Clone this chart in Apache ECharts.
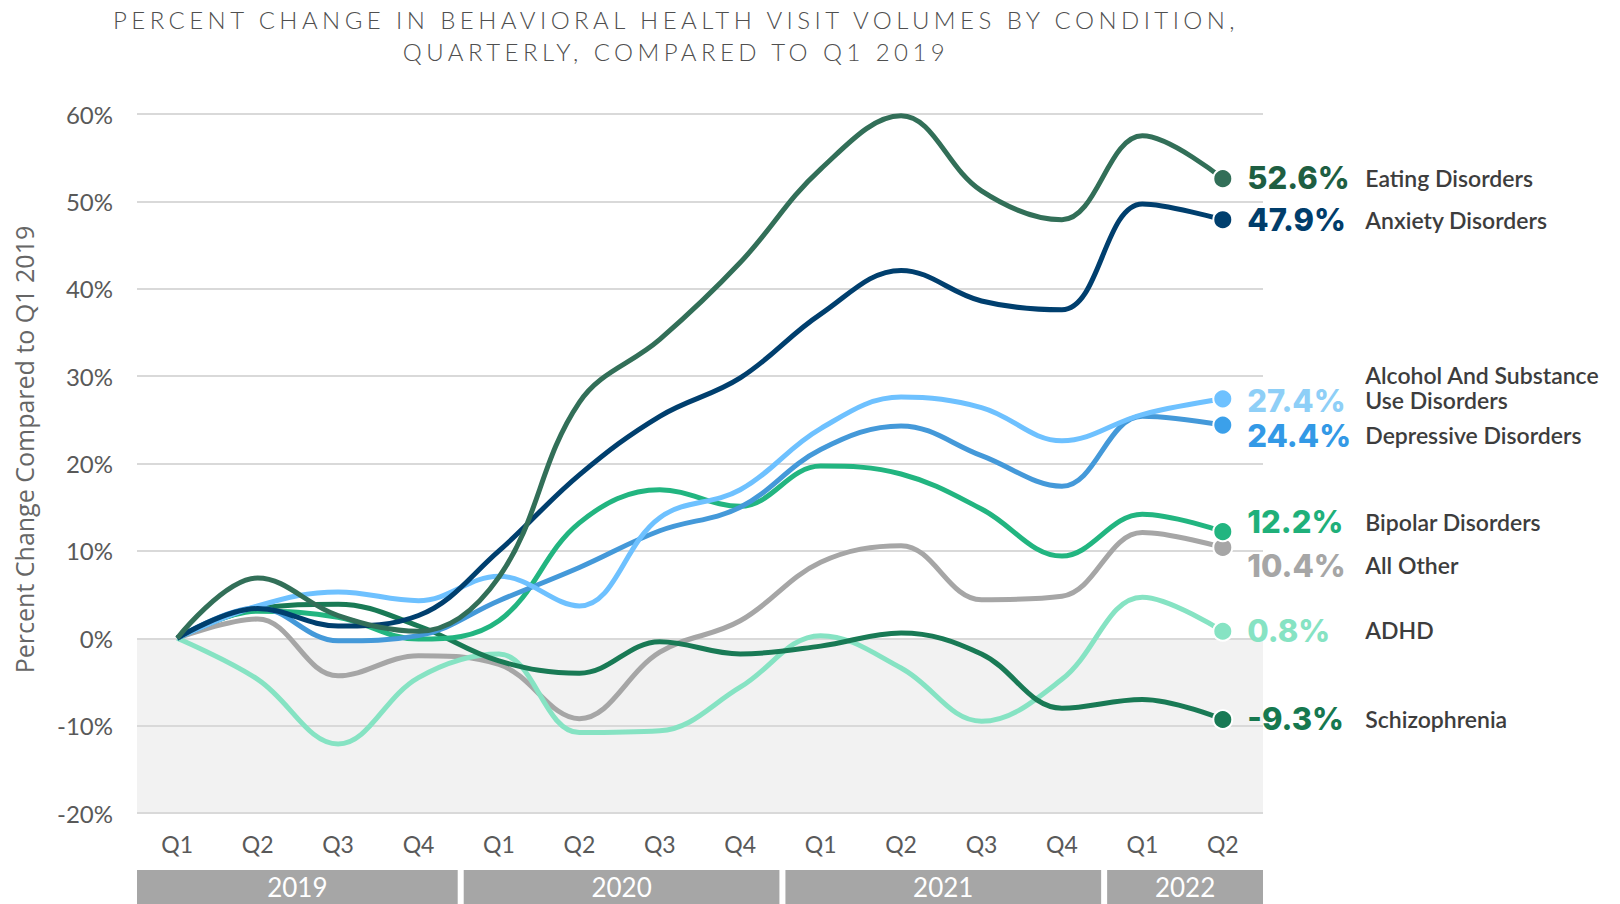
<!DOCTYPE html>
<html>
<head>
<meta charset="utf-8">
<script src="https://cdn.jsdelivr.net/npm/echarts@6/dist/echarts.min.js"></script>
<style>
html,body{margin:0;padding:0;background:#fff;}
#chart{width:1620px;height:904px;}
</style>
</head>
<body>
<div id="chart"></div>
<script>
// ---------- DATA ----------
const quarters = ['Q1','Q2','Q3','Q4','Q1','Q2','Q3','Q4','Q1','Q2','Q3','Q4','Q1','Q2'];
const years = ['2019','2020','2021','2022'];
const yearFirstQuarter = [0, 4, 8, 12];
const yearLastQuarter = [3, 7, 11, 13];

const eating      = [0, 6.9, 2.6, 0.8, 7.0, 27.0, 34.2, 43.0, 53.7, 59.8, 51.2, 47.9, 57.5, 52.6];
const anxiety     = [0, 3.4, 1.4, 2.6, 10.0, 18.7, 25.4, 29.8, 37.1, 42.1, 38.6, 37.6, 49.7, 47.9];
const alcohol     = [0, 3.7, 5.3, 4.3, 7.1, 3.7, 13.8, 17.0, 24.0, 27.6, 26.4, 22.6, 25.6, 27.4];
const depressive  = [0, 3.5, -0.3, 0.3, 4.3, 8.1, 12.3, 15.0, 21.6, 24.3, 20.9, 17.4, 25.4, 24.4];
const bipolar     = [0, 3.1, 2.4, -0.1, 2.0, 13.2, 17.0, 15.1, 19.7, 18.8, 14.8, 9.4, 14.2, 12.2];
const allOther    = [0, 2.2, -4.3, -2.0, -3.0, -9.2, -1.6, 2.0, 8.7, 10.6, 4.4, 4.8, 12.1, 10.4];
const adhd        = [0, -4.7, -12.1, -4.5, -1.8, -10.8, -10.6, -5.6, 0.3, -3.4, -9.5, -4.7, 4.7, 0.8];
const schizo      = [0, 3.4, 3.9, 1.4, -2.6, -4.0, -0.4, -1.8, -0.9, 0.6, -1.8, -8.0, -7.0, -9.3];

const yMin = -20, yMax = 60, yInterval = 10;

const titleLines = ['PERCENT CHANGE IN BEHAVIORAL HEALTH VISIT VOLUMES BY CONDITION,', 'QUARTERLY, COMPARED TO Q1 2019'];
const yAxisTitle = 'Percent Change Compared to Q1 2019';

// ---------- SERIES SETUP (drawn bottom to top) ----------
const seriesDefs = [
  { label: 'All Other', data: allOther, line: '#a6a6a6', text: '#a6a6a6', dy: 18 },
  { label: 'ADHD', data: adhd, line: '#86e3c3', text: '#86e3c3', dy: -1 },
  { label: 'Schizophrenia', data: schizo, line: '#197a55', text: '#16784f', dy: -1 },
  { label: 'Bipolar Disorders', data: bipolar, line: '#22b580', text: '#1fb07a', dy: -10 },
  { label: 'Depressive Disorders', data: depressive, line: '#4499d9', text: '#3399e6', dot: '#3ba0ea', dy: 10 },
  { label: 'Alcohol And Substance\nUse Disorders', data: alcohol, line: '#6ec1ff', text: '#8ecff7', dy: -11 },
  { label: 'Anxiety Disorders', data: anxiety, line: '#003f6e', text: '#003d6b', dy: 0 },
  { label: 'Eating Disorders', data: eating, line: '#326f58', text: '#1e5e42', dy: -1 }
];

const lastIdx = quarters.length - 1;

const lineSeries = seriesDefs.map(s => ({
  name: s.label.replace('\n', ' '),
  type: 'line',
  xAxisIndex: 0,
  yAxisIndex: 0,
  data: s.data,
  smooth: 0.38,
  symbol: 'circle',
  showSymbol: true,
  symbolSize: (v, p) => (p.dataIndex === lastIdx ? 19 : 0),
  lineStyle: { color: s.line, width: 5 },
  itemStyle: { color: s.dot || s.line, borderColor: '#ffffff', borderWidth: 2 },
  emphasis: { disabled: true },
  label: {
    show: true,
    position: 'right',
    distance: 14,
    offset: [0, s.dy],
    formatter: p => {
      if (p.dataIndex !== lastIdx) return '';
      const v = '{v|' + Number(p.value).toFixed(1) + '%}';
      const lines = s.label.split('\n');
      if (lines.length === 1) return v + '{n|' + lines[0] + '}';
      return '{sp|}{n|' + lines[0] + '}\n' + v + '{n|' + lines[1] + '}';
    },
    rich: {
      v: { fontFamily: 'Inter', fontSize: 31, fontWeight: 800, color: s.text, width: 118, lineHeight: 25 },
      n: { fontFamily: 'Lato', fontSize: 23, fontWeight: 600, color: '#3d3d3d', lineHeight: 25 },
      sp: { width: 118, lineHeight: 25 }
    }
  },
  z: 3
}));

const yearSeries = {
  type: 'custom',
  xAxisIndex: 1,
  yAxisIndex: 1,
  silent: true,
  data: years.map((y, i) => [yearFirstQuarter[i], yearLastQuarter[i], 0, 1]),
  encode: { x: [0, 1], y: [2, 3] },
  renderItem: (params, api) => {
    const s = api.value(0), e = api.value(1);
    const band = api.size([1, 0])[0];
    const pTop = api.coord([s, 1]);
    const pBot = api.coord([e, 0]);
    let x0 = pTop[0] - band / 2;
    let x1 = pBot[0] + band / 2;
    if (s > 0) x0 += 5;
    if (e < lastIdx) x1 -= 1;
    const y0 = pTop[1], y1 = pBot[1];
    return {
      type: 'group',
      children: [
        { type: 'rect', shape: { x: x0, y: y0, width: x1 - x0, height: y1 - y0 }, style: { fill: '#a6a6a6' } },
        { type: 'text', style: { text: years[params.dataIndex], x: (x0 + x1) / 2, y: (y0 + y1) / 2, align: 'center', verticalAlign: 'middle', fill: '#ffffff', fontFamily: 'Lato', fontSize: 26 } }
      ]
    };
  }
};

const titleFont = { family: 'Lato', size: 24, weight: 300 };

const option = {
  animation: false,
  backgroundColor: '#ffffff',
  title: {
    text: titleLines.join('\n'),
    left: 676,
    top: 3,
    textAlign: 'center',
    padding: 0,
    textStyle: { fontFamily: titleFont.family, fontSize: titleFont.size, fontWeight: titleFont.weight, color: '#4f4f4f', lineHeight: 32 }
  },
  grid: [
    { left: 137, right: 357, top: 114, bottom: 91, containLabel: false },
    { left: 137, right: 357, top: 870, bottom: 0, containLabel: false }
  ],
  xAxis: [
    {
      type: 'category', gridIndex: 0, data: quarters, boundaryGap: true,
      axisLine: { show: false }, axisTick: { show: false },
      axisLabel: { margin: 19, fontFamily: 'Lato', fontSize: 23, color: '#595959' },
      splitLine: { show: false }
    },
    { type: 'category', gridIndex: 1, data: quarters, boundaryGap: true, show: false }
  ],
  yAxis: [
    {
      type: 'value', gridIndex: 0, min: yMin, max: yMax, interval: yInterval,
      name: yAxisTitle,
      nameLocation: 'middle', nameGap: 101,
      nameTextStyle: { fontFamily: 'Open Sans', fontSize: 25, color: '#666666', padding: [0, 0, 0, 28] },
      axisLine: { show: false }, axisTick: { show: false },
      axisLabel: { margin: 24, fontFamily: 'Lato', fontSize: 24, color: '#595959', formatter: '{value}%', padding: [0, 0, 4, 0] },
      splitLine: { show: true, lineStyle: { color: '#d9d9d9', width: 2 } },
      splitArea: { show: true, areaStyle: { color: ['#f2f2f2', '#f2f2f2', 'rgba(255,255,255,0)', 'rgba(255,255,255,0)', 'rgba(255,255,255,0)', 'rgba(255,255,255,0)', 'rgba(255,255,255,0)', 'rgba(255,255,255,0)'] } }
    },
    { type: 'value', gridIndex: 1, min: 0, max: 1, show: false }
  ],
  series: [yearSeries].concat(lineSeries)
};

const chart = echarts.init(document.getElementById('chart'), null, { renderer: 'svg' });
chart.setOption(option);

// Title tracking (letter spacing) to match the reference's wide-spaced heading
const targetLine1Width = 1131;
const mctx = document.createElement('canvas').getContext('2d');
mctx.font = titleFont.weight + ' ' + titleFont.size + 'px ' + titleFont.family;
const tracking = Math.max(0, (targetLine1Width - mctx.measureText(titleLines[0]).width) / titleLines[0].length);
function applyTracking() {
  document.querySelectorAll('#chart svg text').forEach(t => {
    const s = t.textContent;
    if (titleLines.indexOf(s) >= 0) {
      t.setAttribute('letter-spacing', tracking.toFixed(2) + 'px');
    }
  });
}
chart.on('rendered', applyTracking);
chart.on('finished', applyTracking);
applyTracking();
setTimeout(applyTracking, 0);
</script>
</body>
</html>
